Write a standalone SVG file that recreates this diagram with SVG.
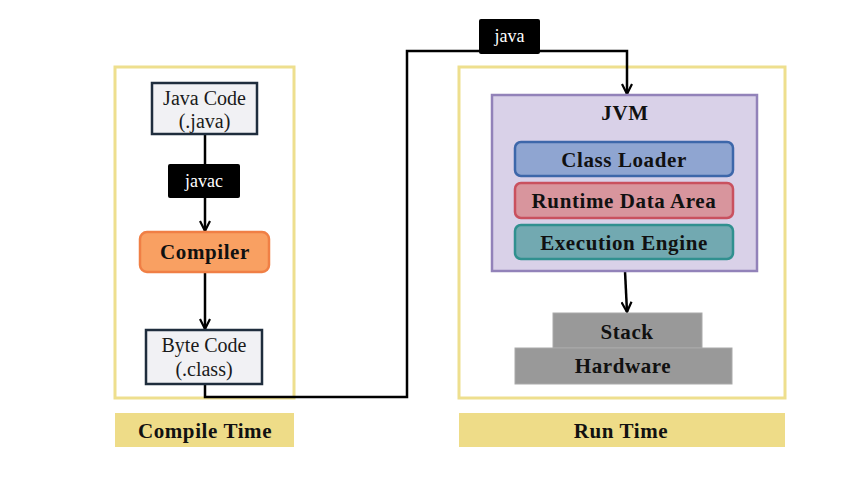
<svg xmlns="http://www.w3.org/2000/svg" width="861" height="483" viewBox="0 0 861 483">
<style>
  text { font-family: "Liberation Serif", "DejaVu Serif", serif; text-anchor: middle; dominant-baseline: central; }
  .reg { font-size: 20px; fill: #1a1a1a; }
  .bold { font-size: 21px; font-weight: bold; fill: #111; letter-spacing: 0.6px; }
  .tag { font-size: 18px; fill: #fff; }
  .frame { fill: #fff; stroke: #EEDF8E; stroke-width: 3; }
  .label { fill: #EEDC88; }
  .codebox { fill: #F1F1F4; stroke: #1F2D3D; stroke-width: 2.5; }
  .tagbox { fill: #000; }
  .conn { fill: none; stroke: #000; stroke-width: 2.5; }
  .gray { fill: #999; stroke: #aaa; stroke-width: 1; }
</style>
<defs>
  <marker id="arr" viewBox="0 0 12 12" refX="11" refY="6" markerWidth="12" markerHeight="12" markerUnits="userSpaceOnUse" orient="auto">
    <polyline points="1,1 11,6 1,11" fill="none" stroke="#000" stroke-width="2.2"/>
  </marker>
</defs>
<rect width="861" height="483" fill="#fff"/>

<g id="compile-frame"><rect class="frame" x="115" y="67" width="179" height="331"/></g>
<g id="run-frame"><rect class="frame" x="459" y="67" width="326" height="331"/></g>

<g id="connectors">
  <line class="conn" x1="205" y1="135" x2="205" y2="231" marker-end="url(#arr)"/>
  <line class="conn" x1="205" y1="272" x2="205" y2="329" marker-end="url(#arr)"/>
  <polyline class="conn" points="205,384 205,397 407,397 407,51 627,51 627,94" marker-end="url(#arr)"/>
  <line class="conn" x1="625" y1="271" x2="627" y2="312" marker-end="url(#arr)"/>
</g>

<g id="java-code"><rect class="codebox" x="152" y="83" width="105" height="51"/>
  <text class="reg" x="204.5" y="98">Java Code</text><text class="reg" x="204.5" y="121">(.java)</text></g>
<g id="javac"><rect class="tagbox" x="168" y="164" width="72" height="34" rx="2"/><text class="tag" x="204" y="181">javac</text></g>
<g id="compiler"><rect x="140" y="232" width="129" height="40" rx="7" fill="#F9A062" stroke="#F07F45" stroke-width="2.5"/><text class="bold" x="205" y="252">Compiler</text></g>
<g id="byte-code"><rect class="codebox" x="146" y="330" width="116" height="54"/>
  <text class="reg" x="204" y="345">Byte Code</text><text class="reg" x="204" y="369">(.class)</text></g>
<g id="java"><rect class="tagbox" x="479" y="19" width="61" height="35" rx="2"/><text class="tag" x="509.5" y="36">java</text></g>

<g id="jvm"><rect x="492" y="95" width="265" height="176" fill="#D9D1E8" stroke="#9282B9" stroke-width="2.5"/><text class="bold" x="625" y="113">JVM</text></g>
<g id="class-loader"><rect x="515" y="142" width="218" height="34" rx="6" fill="#8FA5D1" stroke="#3D67AA" stroke-width="2.5"/><text class="bold" x="624" y="160">Class Loader</text></g>
<g id="runtime-data-area"><rect x="515" y="183" width="218" height="35" rx="6" fill="#D8959D" stroke="#C9515F" stroke-width="2.5"/><text class="bold" x="624" y="201">Runtime Data Area</text></g>
<g id="execution-engine"><rect x="515" y="225" width="218" height="34" rx="6" fill="#72A9B1" stroke="#30908F" stroke-width="2.5"/><text class="bold" x="624" y="243">Execution Engine</text></g>

<g id="stack"><rect class="gray" x="553" y="313" width="149" height="35"/><text class="bold" x="627" y="332">Stack</text></g>
<g id="hardware"><rect class="gray" x="515" y="348" width="217" height="36"/><text class="bold" x="623" y="366">Hardware</text></g>

<g id="compile-time"><rect class="label" x="115" y="413" width="179" height="34"/><text class="bold" x="205" y="431">Compile Time</text></g>
<g id="run-time"><rect class="label" x="459" y="413" width="326" height="34"/><text class="bold" x="621" y="431">Run Time</text></g>
</svg>
